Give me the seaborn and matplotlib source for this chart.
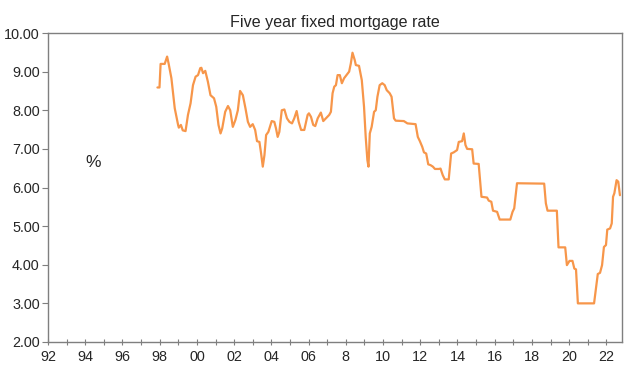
import matplotlib
matplotlib.use("Agg")
import matplotlib.pyplot as plt
import seaborn as sns
import pandas as pd
from matplotlib.ticker import MultipleLocator, FixedLocator, FixedFormatter

# Decimal-year positions and five-year fixed mortgage rate (%)
years = [
    1997.88, 1997.99, 1998.05, 1998.27, 1998.40, 1998.48, 1998.63, 1998.81, 1998.99, 1999.03,
    1999.14, 1999.24, 1999.39, 1999.52, 1999.66, 1999.79, 1999.93, 2000.06, 2000.18, 2000.24,
    2000.33, 2000.45, 2000.59, 2000.73, 2000.92, 2001.04, 2001.16, 2001.27, 2001.36, 2001.52,
    2001.67, 2001.79, 2001.93, 2002.07, 2002.20, 2002.32, 2002.47, 2002.61, 2002.74, 2002.86,
    2003.00, 2003.13, 2003.23, 2003.36, 2003.45, 2003.54, 2003.63, 2003.72, 2003.84, 2004.02,
    2004.16, 2004.25, 2004.34, 2004.43, 2004.56, 2004.70, 2004.84, 2004.97, 2005.11, 2005.23,
    2005.36, 2005.47, 2005.60, 2005.77, 2005.95, 2006.02, 2006.13, 2006.25, 2006.36, 2006.49,
    2006.66, 2006.79, 2006.93, 2007.11, 2007.20, 2007.29, 2007.38, 2007.47, 2007.56, 2007.68,
    2007.79, 2007.91, 2008.04, 2008.18, 2008.27, 2008.36, 2008.48, 2008.54, 2008.71, 2008.86,
    2008.98, 2009.07, 2009.16, 2009.22, 2009.29, 2009.39, 2009.52, 2009.61, 2009.70, 2009.82,
    2009.96, 2010.09, 2010.20, 2010.36, 2010.46, 2010.59, 2010.68, 2011.12, 2011.31, 2011.75,
    2011.87, 2011.98, 2012.11, 2012.20, 2012.32, 2012.43, 2012.55, 2012.68, 2012.79, 2013.00,
    2013.09, 2013.21, 2013.32, 2013.53, 2013.66, 2013.80, 2013.98, 2014.07, 2014.25, 2014.34,
    2014.43, 2014.52, 2014.79, 2014.87, 2015.14, 2015.29, 2015.59, 2015.68, 2015.82, 2015.91,
    2016.13, 2016.27, 2016.84, 2016.96, 2017.05, 2017.20, 2018.66, 2018.75, 2018.84, 2019.34,
    2019.43, 2019.79, 2019.88, 2020.02, 2020.18, 2020.28, 2020.37, 2020.47, 2021.34, 2021.45,
    2021.54, 2021.66, 2021.77, 2021.87, 2021.98, 2022.05, 2022.20, 2022.29, 2022.36, 2022.43,
    2022.55, 2022.64, 2022.73,
]
rates = [
    8.59, 8.59, 9.20, 9.20, 9.39, 9.21, 8.83, 8.05, 7.62, 7.55,
    7.62, 7.48, 7.46, 7.88, 8.18, 8.65, 8.87, 8.91, 9.09, 9.10,
    8.96, 9.02, 8.74, 8.39, 8.31, 8.09, 7.62, 7.40, 7.53, 7.96,
    8.11, 8.00, 7.57, 7.75, 8.00, 8.50, 8.39, 8.05, 7.70, 7.57,
    7.64, 7.49, 7.20, 7.18, 6.88, 6.54, 6.84, 7.36, 7.44, 7.72,
    7.70, 7.53, 7.31, 7.44, 8.00, 8.02, 7.79, 7.70, 7.66, 7.79,
    7.98, 7.70, 7.49, 7.49, 7.88, 7.92, 7.83, 7.62, 7.59, 7.79,
    7.94, 7.72, 7.79, 7.88, 7.96, 8.44, 8.61, 8.65, 8.91, 8.91,
    8.70, 8.83, 8.91, 9.00, 9.21, 9.49, 9.30, 9.17, 9.15, 8.78,
    8.09, 7.31, 6.71, 6.54, 7.40, 7.57, 7.96, 8.00, 8.35, 8.65,
    8.70, 8.65, 8.52, 8.44, 8.35, 7.79, 7.73, 7.72, 7.66, 7.64,
    7.31, 7.20, 7.05, 6.91, 6.88, 6.60, 6.58, 6.54, 6.48, 6.48,
    6.49, 6.32, 6.21, 6.21, 6.88, 6.91, 6.97, 7.18, 7.20, 7.40,
    7.10, 7.00, 6.99, 6.62, 6.61, 5.76, 5.74, 5.66, 5.63, 5.40,
    5.37, 5.17, 5.17, 5.37, 5.46, 6.11, 6.10, 5.59, 5.40, 5.40,
    4.45, 4.45, 3.99, 4.10, 4.10, 3.90, 3.88, 3.00, 3.00, 3.43,
    3.76, 3.79, 3.99, 4.46, 4.51, 4.91, 4.94, 5.07, 5.76, 5.85,
    6.19, 6.15, 5.80,
]

tick_years = list(range(1992, 2023, 2))
tick_labels = ["92", "94", "96", "98", "00", "02", "04", "06", "8",
               "10", "12", "14", "16", "18", "20", "22"]
y_ticks = [2, 3, 4, 5, 6, 7, 8, 9, 10]
y_labels = [f"{v:.2f}" for v in y_ticks]

df = pd.DataFrame({"year": years, "rate": rates})

sns.set_style("white")
plt.rcParams["font.family"] = ["Liberation Sans", "DejaVu Sans"]

fig = plt.figure(figsize=(6.35, 3.87), dpi=100)
ax = fig.add_axes([0.0756, 0.1163, 0.9039, 0.7984])

sns.lineplot(data=df, x="year", y="rate", ax=ax, color="#F7964A",
             linewidth=1.6, estimator=None, sort=False)

ax.set_xlim(1992, 2022.84)
ax.set_ylim(2, 10)
ax.xaxis.set_major_locator(FixedLocator(tick_years))
ax.xaxis.set_major_formatter(FixedFormatter(tick_labels))
ax.xaxis.set_minor_locator(MultipleLocator(1))
ax.set_yticks(y_ticks)
ax.set_yticklabels(y_labels)

ax.tick_params(axis="x", which="both", direction="inout", length=5, width=0.8,
               color="#7f7f7f", labelsize=10.4, pad=3)
ax.tick_params(axis="y", which="major", direction="out", length=4, width=0.8,
               color="#7f7f7f", labelsize=10.4, pad=2)
ax.tick_params(bottom=True, left=True, which="both")
ax.tick_params(axis="y", which="minor", left=False)

for s in ax.spines.values():
    s.set_color("#7f7f7f")
    s.set_linewidth(1.0)
    s.set_visible(True)

ax.set_xlabel("")
ax.set_ylabel("")
ax.set_title("Five year fixed mortgage rate", fontsize=11.6, pad=4)
ax.text(1994.45, 6.66, "%", fontsize=12.5, ha="center", va="center")

fig.savefig("out.png", dpi=100)
